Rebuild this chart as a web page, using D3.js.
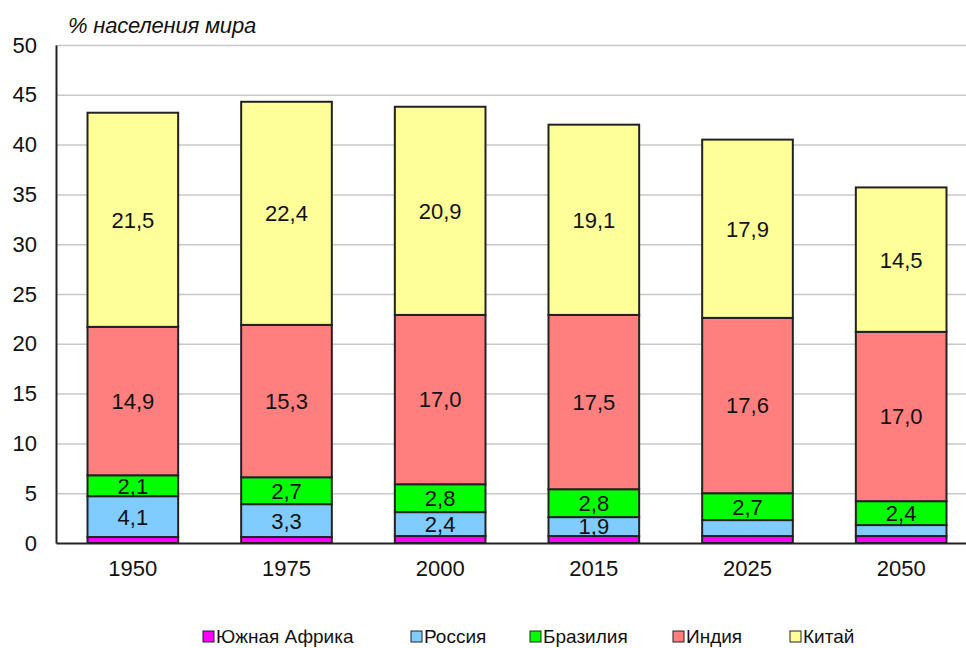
<!DOCTYPE html>
<html>
<head>
<meta charset="utf-8">
<script src="https://cdn.jsdelivr.net/npm/d3@7"></script>
<style>
  body { margin: 0; background: #fff; }
  svg { display: block; font-family: Arial, "Liberation Sans", sans-serif; }
</style>
</head>
<body>
<div id="chart"></div>
<script>
var years = ["1950", "1975", "2000", "2015", "2025", "2050"];
var seriesNames = ["Южная Африка", "Россия", "Бразилия", "Индия", "Китай"];
var southAfrica = [0.6, 0.6, 0.7, 0.7, 0.7, 0.7];
var russia = [4.1, 3.3, 2.4, 1.9, 1.6, 1.1];
var brazil = [2.1, 2.7, 2.8, 2.8, 2.7, 2.4];
var india = [14.9, 15.3, 17.0, 17.5, 17.6, 17.0];
var china = [21.5, 22.4, 20.9, 19.1, 17.9, 14.5];
// which segments carry a value label
var showLabel = [
    [false, false, false, false, false, false],
    [true, true, true, true, false, false],
    [true, true, true, true, true, true],
    [true, true, true, true, true, true],
    [true, true, true, true, true, true]
];
var colors = ["#ff00ff", "#80ccff", "#00ff00", "#ff7f7f", "#ffff99"];
var yTicks = [0, 5, 10, 15, 20, 25, 30, 35, 40, 45, 50];

var allSeries = [southAfrica, russia, brazil, india, china];

var rows = years.map(function(y, i) {
    var r = { year: y };
    seriesNames.forEach(function(s, k) { r[s] = allSeries[k][i]; });
    return r;
});

var W = 966, H = 648;
var margin = { top: 45, right: 0, bottom: 105, left: 56 };
var plotW = 922, plotH = H - margin.top - margin.bottom;
var fs = 22;

var svg = d3.select("#chart")
    .append("svg")
    .attr("width", W)
    .attr("height", H);

var g = svg.append("g")
    .attr("transform", "translate(" + margin.left + "," + margin.top + ")");

var x = d3.scaleBand()
    .domain(years)
    .range([0, plotW])
    .paddingInner(0.41)
    .paddingOuter(0.205);

var y = d3.scaleLinear()
    .domain([0, 50])
    .range([plotH, 0]);

// grid
g.append("g")
    .selectAll("line")
    .data(yTicks.slice(1))
    .enter()
    .append("line")
    .attr("x1", 0)
    .attr("x2", plotW)
    .attr("y1", function(d) { return y(d) + 0.5; })
    .attr("y2", function(d) { return y(d) + 0.5; })
    .attr("stroke", "#c8c8c8")
    .attr("stroke-width", 1.5);

var stack = d3.stack().keys(seriesNames);
var layers = stack(rows);

var layer = g.selectAll(".layer")
    .data(layers)
    .enter()
    .append("g")
    .attr("class", "layer");

layer.selectAll("rect")
    .data(function(d) { return d; })
    .enter()
    .append("rect")
    .attr("x", function(d) { return x(d.data.year); })
    .attr("width", x.bandwidth())
    .attr("y", function(d) { return y(d[1]); })
    .attr("height", function(d) { return y(d[0]) - y(d[1]); })
    .attr("fill", function(d, i, nodes) { return colors[d3.select(nodes[i].parentNode).datum().index]; })
    .attr("stroke", "#222")
    .attr("stroke-width", 2);

layer.selectAll("text")
    .data(function(d) {
        return d.map(function(p, i) { return { p: p, i: i, k: d.index }; })
            .filter(function(o) { return showLabel[o.k][o.i]; });
    })
    .enter()
    .append("text")
    .attr("x", function(o) { return x(o.p.data.year) + x.bandwidth() / 2; })
    .attr("y", function(o) { return y((o.p[0] + o.p[1]) / 2); })
    .attr("dy", "0.36em")
    .attr("text-anchor", "middle")
    .attr("font-size", fs)
    .attr("fill", "#111")
    .text(function(o) { return d3.format(".1f")(allSeries[o.k][o.i]).replace(".", ","); });

// axes
var yAxis = g.append("g")
    .call(d3.axisLeft(y).tickValues(yTicks).tickSize(0).tickPadding(19));
yAxis.select(".domain").attr("stroke", "#222").attr("stroke-width", 2);
yAxis.selectAll("text").attr("font-size", fs).attr("fill", "#111")
    .attr("font-family", "Arial, 'Liberation Sans', sans-serif");

var xAxis = g.append("g")
    .attr("transform", "translate(0," + plotH + ")")
    .call(d3.axisBottom(x).tickSize(0).tickPadding(17));
xAxis.select(".domain").attr("stroke", "#222").attr("stroke-width", 2);
xAxis.selectAll("text").attr("font-size", fs).attr("fill", "#111")
    .attr("font-family", "Arial, 'Liberation Sans', sans-serif");

// title
svg.append("text")
    .attr("x", 68)
    .attr("y", 33)
    .attr("font-size", 22)
    .attr("font-style", "italic")
    .attr("letter-spacing", "-0.2")
    .attr("fill", "#111")
    .text("% населения мира");

// legend
var legendX = [203, 411, 530, 673, 790];
var legend = svg.append("g")
    .selectAll("g")
    .data(seriesNames)
    .enter()
    .append("g")
    .attr("transform", function(d, i) { return "translate(" + legendX[i] + ",631)"; });

legend.append("rect")
    .attr("width", 11)
    .attr("height", 11)
    .attr("fill", function(d, i) { return colors[i]; })
    .attr("stroke", "#222")
    .attr("stroke-width", 1);

legend.append("text")
    .attr("x", 13)
    .attr("y", 5.5)
    .attr("dy", "0.36em")
    .attr("font-size", 19)
    .attr("fill", "#111")
    .text(function(d) { return d; });
</script>
</body>
</html>
